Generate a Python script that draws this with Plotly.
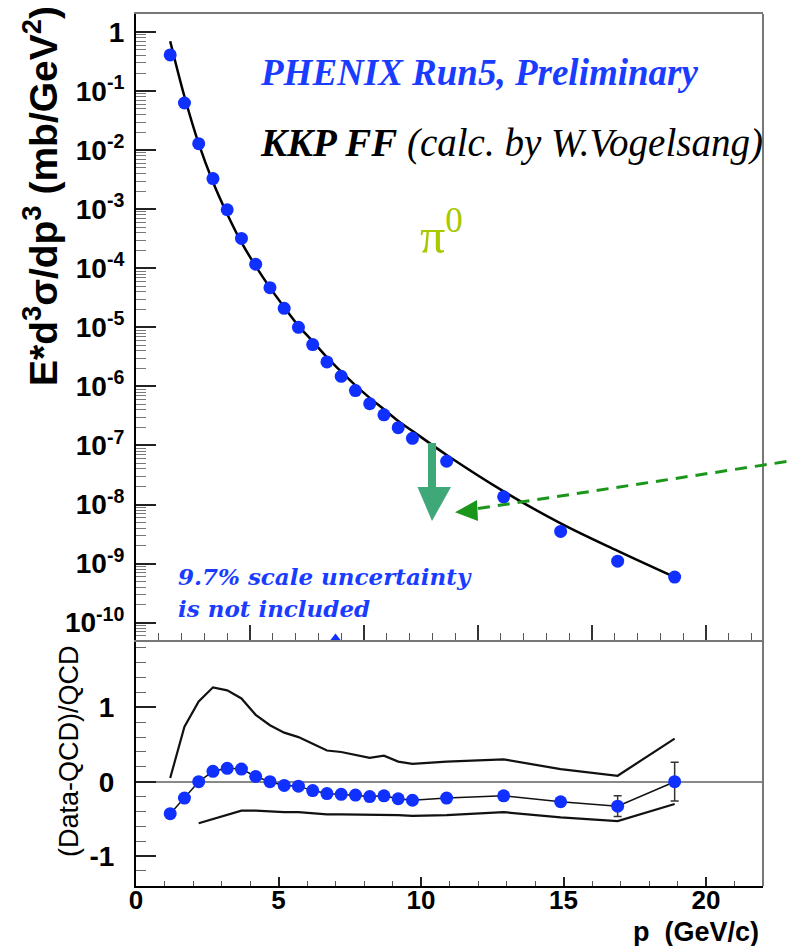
import plotly.graph_objects as go

# ---------------- data ----------------
pt = [1.2, 1.7, 2.2, 2.7, 3.2, 3.7, 4.2, 4.7, 5.2, 5.7, 6.2, 6.7, 7.2, 7.7,
      8.2, 8.7, 9.2, 9.7, 10.9, 12.9, 14.9, 16.9, 18.9]
xsec = [0.41, 0.063, 0.0129, 0.0033, 9.8e-4, 3.2e-4, 1.17e-4, 4.7e-5, 2.1e-5,
        1.0e-5, 5.1e-6, 2.6e-6, 1.48e-6, 8.5e-7, 5.1e-7, 3.3e-7, 2.0e-7,
        1.32e-7, 5.4e-8, 1.35e-8, 3.5e-9, 1.1e-9, 5.9e-10]
qcd = [0.70, 0.081, 0.0129, 0.0029, 8.3e-4, 2.74e-4, 1.09e-4, 4.7e-5, 2.2e-5,
       1.06e-5, 5.8e-6, 3.1e-6, 1.78e-6, 1.04e-6, 6.4e-7, 4.1e-7, 2.6e-7,
       1.76e-7, 6.9e-8, 1.67e-8, 4.8e-9, 1.64e-9, 5.9e-10]
ratio = [-0.43, -0.22, 0.0, 0.14, 0.18, 0.17, 0.07, 0.0, -0.05, -0.06, -0.12,
         -0.16, -0.17, -0.18, -0.20, -0.19, -0.23, -0.25, -0.22, -0.19, -0.27,
         -0.33, 0.0]
ratio_err = [0, 0, 0, 0, 0, 0, 0, 0, 0, 0, 0, 0, 0, 0, 0, 0, 0, 0, 0, 0, 0,
             0.14, 0.26]
band_hi_x = pt
band_hi = [0.05, 0.74, 1.08, 1.27, 1.23, 1.12, 0.90, 0.76, 0.66, 0.60, 0.51,
           0.42, 0.40, 0.36, 0.32, 0.35, 0.27, 0.24, 0.27, 0.30, 0.17, 0.08,
           0.58]
band_lo_x = [2.2, 2.7, 3.2, 3.7, 4.2, 4.7, 5.2, 5.7, 6.2, 6.7, 7.2, 7.7, 8.2,
             8.7, 9.2, 9.7, 10.9, 12.9, 14.9, 16.9, 18.9]
band_lo = [-0.56, -0.50, -0.44, -0.39, -0.39, -0.40, -0.41, -0.41, -0.43,
           -0.44, -0.44, -0.44, -0.44, -0.44, -0.45, -0.46, -0.45, -0.41,
           -0.48, -0.53, -0.30]
offscale_x = [7.0]
offscale_y = [5.0e-11]

log_tickvals = [1, 1e-1, 1e-2, 1e-3, 1e-4, 1e-5, 1e-6, 1e-7, 1e-8, 1e-9, 1e-10]
log_ticktext = ["1"] + ["10<sup>-%d</sup>" % i for i in range(1, 11)]

# ---------------- layout helpers ----------------
W, H = 787, 946
L, R, T, B = 136, 24, 14, 60
PW, PH = W - L - R, H - T - B
SPLIT = 640


def px(x):
    return (x - L) / PW


def py(y):
    return (H - B - y) / PH


split = py(SPLIT)
BLUE = "#1030ff"
TXTBLUE = "#1a3cff"

fig = go.Figure()

# upper panel
fig.add_trace(go.Scatter(x=pt, y=qcd, mode="lines", line=dict(color="black", width=2.5, shape="spline"),
                         xaxis="x2", yaxis="y2", showlegend=False))
fig.add_trace(go.Scatter(x=pt, y=xsec, mode="markers", marker=dict(color=BLUE, size=13),
                         xaxis="x2", yaxis="y2", showlegend=False))
fig.add_trace(go.Scatter(x=offscale_x, y=offscale_y, mode="markers",
                         marker=dict(color=BLUE, size=14, symbol="triangle-up"),
                         xaxis="x2", yaxis="y2", showlegend=False))

# lower panel
fig.add_trace(go.Scatter(x=band_hi_x, y=band_hi, mode="lines", line=dict(color="#111", width=2.2),
                         xaxis="x", yaxis="y", showlegend=False))
fig.add_trace(go.Scatter(x=band_lo_x, y=band_lo, mode="lines", line=dict(color="#111", width=2.2),
                         xaxis="x", yaxis="y", showlegend=False))
fig.add_trace(go.Scatter(x=pt, y=ratio, mode="lines+markers",
                         line=dict(color="#111", width=1.5),
                         marker=dict(color=BLUE, size=13),
                         error_y=dict(type="data", array=ratio_err, color="#333", thickness=1.5, width=4),
                         xaxis="x", yaxis="y", showlegend=False))

tickfont = dict(family="Liberation Sans", size=28, color="black", weight="bold")
xtickfont = dict(family="Liberation Sans", size=26, color="black", weight="bold")

fig.update_layout(
    width=W, height=H,
    margin=dict(l=L, r=R, t=T, b=B, pad=0),
    template="none",
    paper_bgcolor="white", plot_bgcolor="white",
    font=dict(family="Liberation Sans", color="black"),
    xaxis=dict(domain=[0, 1], range=[0, 22], anchor="y", showgrid=False, zeroline=False,
               showline=True, linecolor="black", linewidth=2,
               ticks="inside", tickmode="linear", tick0=0, dtick=5, ticklen=9, tickwidth=1.5,
               tickcolor="#222", tickfont=xtickfont, ticklabelstandoff=-10,
               minor=dict(ticks="inside", dtick=1, ticklen=5, tickwidth=1.2, tickcolor="#555")),
    xaxis2=dict(domain=[0, 1], range=[0, 22], anchor="y2", showgrid=False, zeroline=False,
                showline=True, linecolor="#777", linewidth=2, mirror=True,
                ticks="inside", tickmode="linear", tick0=0, dtick=4, ticklen=15, tickwidth=1.5,
                tickcolor="#333", showticklabels=False,
                minor=dict(ticks="inside", dtick=0.8, ticklen=7, tickwidth=1.2, tickcolor="#555")),
    yaxis=dict(domain=[0, split], range=[-1.404, 1.907], anchor="x", showgrid=False,
               zeroline=True, zerolinecolor="#888", zerolinewidth=1.5,
               showline=True, linecolor="black", linewidth=2,
               ticks="inside", tickmode="array", tickvals=[-1, 0, 1], ticktext=["-1", "0", "1"],
               ticklen=20, tickwidth=1.5, tickcolor="#222", tickfont=tickfont, ticklabelstandoff=14,
               minor=dict(ticks="inside", dtick=0.2, ticklen=10, tickwidth=1.2, tickcolor="#666")),
    yaxis2=dict(domain=[split, 1], type="log", range=[-10.294, 0.306], anchor="x2", showgrid=False,
                zeroline=False, showline=True, linecolor="black", linewidth=2,
                ticks="inside", tickmode="array", tickvals=log_tickvals, ticktext=log_ticktext,
                ticklen=20, tickwidth=1.5, tickcolor="#222", tickfont=tickfont, ticklabelstandoff=4,
                minor=dict(ticks="inside", dtick="D1", ticklen=10, tickwidth=1.2, tickcolor="#777")),
)

shapes = [
    # right frame
    dict(type="line", xref="paper", yref="paper", x0=1, x1=1, y0=0, y1=1,
         line=dict(color="#777", width=2)),
    # vertical arrow shaft + head
    dict(type="rect", xref="paper", yref="paper", x0=px(428), x1=px(436), y0=py(488), y1=py(443),
         fillcolor="#3fa878", line=dict(width=0)),
    dict(type="path", xref="paper", yref="paper",
         path="M %f,%f L %f,%f L %f,%f Z" % (px(417.5), py(487), px(451), py(487), px(432), py(521)),
         fillcolor="#3fa878", line=dict(width=0)),
    # dashed arrow
    dict(type="line", xref="paper", yref="paper", x0=px(478), y0=py(508.5), x1=px(800), y1=py(459.5),
         line=dict(color="#1a961a", width=3, dash="12px,8px")),
    dict(type="path", xref="paper", yref="paper",
         path="M %f,%f L %f,%f L %f,%f Z" % (px(455), py(512.3), px(477), py(500), px(478), py(521)),
         fillcolor="#1a961a", line=dict(width=0)),
]
fig.update_layout(shapes=shapes)

ann = [
    dict(text="PHENIX Run5, Preliminary", x=px(258), y=py(72), xanchor="left", yanchor="middle",
         font=dict(family="Liberation Serif", size=37, color=TXTBLUE, style="italic", weight="bold")),
    dict(text="<b>KKP FF</b> (calc. by W.Vogelsang)", x=px(258), y=py(143), xanchor="left", yanchor="middle",
         font=dict(family="Liberation Serif", size=39, color="black", style="italic")),
    dict(text="π<sup>0</sup>", x=px(418), y=py(232), xanchor="left", yanchor="middle",
         font=dict(family="Liberation Serif", size=50, color="#a8c800")),
    dict(text="9.7% scale uncertainty", x=px(176), y=py(576), xanchor="left", yanchor="middle",
         font=dict(family="DejaVu Serif", size=23, color=TXTBLUE, style="italic", weight="bold")),
    dict(text="is not included", x=px(176), y=py(608), xanchor="left", yanchor="middle",
         font=dict(family="DejaVu Serif", size=23, color=TXTBLUE, style="italic", weight="bold")),
    dict(text="<b>E*d<sup>3</sup>σ/dp<sup>3</sup> (mb/GeV<sup>2</sup>)</b>", textangle=-90,
         x=px(40), y=py(196), xanchor="center", yanchor="middle",
         font=dict(family="Liberation Sans", size=39, color="black")),
    dict(text="(Data-QCD)/QCD", textangle=-90, x=px(69), y=py(751), xanchor="center", yanchor="middle",
         font=dict(family="Liberation Sans", size=27, color="black")),
    dict(text="<b>p  (GeV/c)</b>", x=px(761), y=py(932), xanchor="right", yanchor="middle",
         font=dict(family="Liberation Sans", size=27, color="black")),
]
for a in ann:
    a.update(xref="paper", yref="paper", showarrow=False)
fig.update_layout(annotations=ann)

fig.write_html("out.html", config={"displayModeBar": False},
               post_script="document.body.style.margin='0';document.body.style.padding='0';")
